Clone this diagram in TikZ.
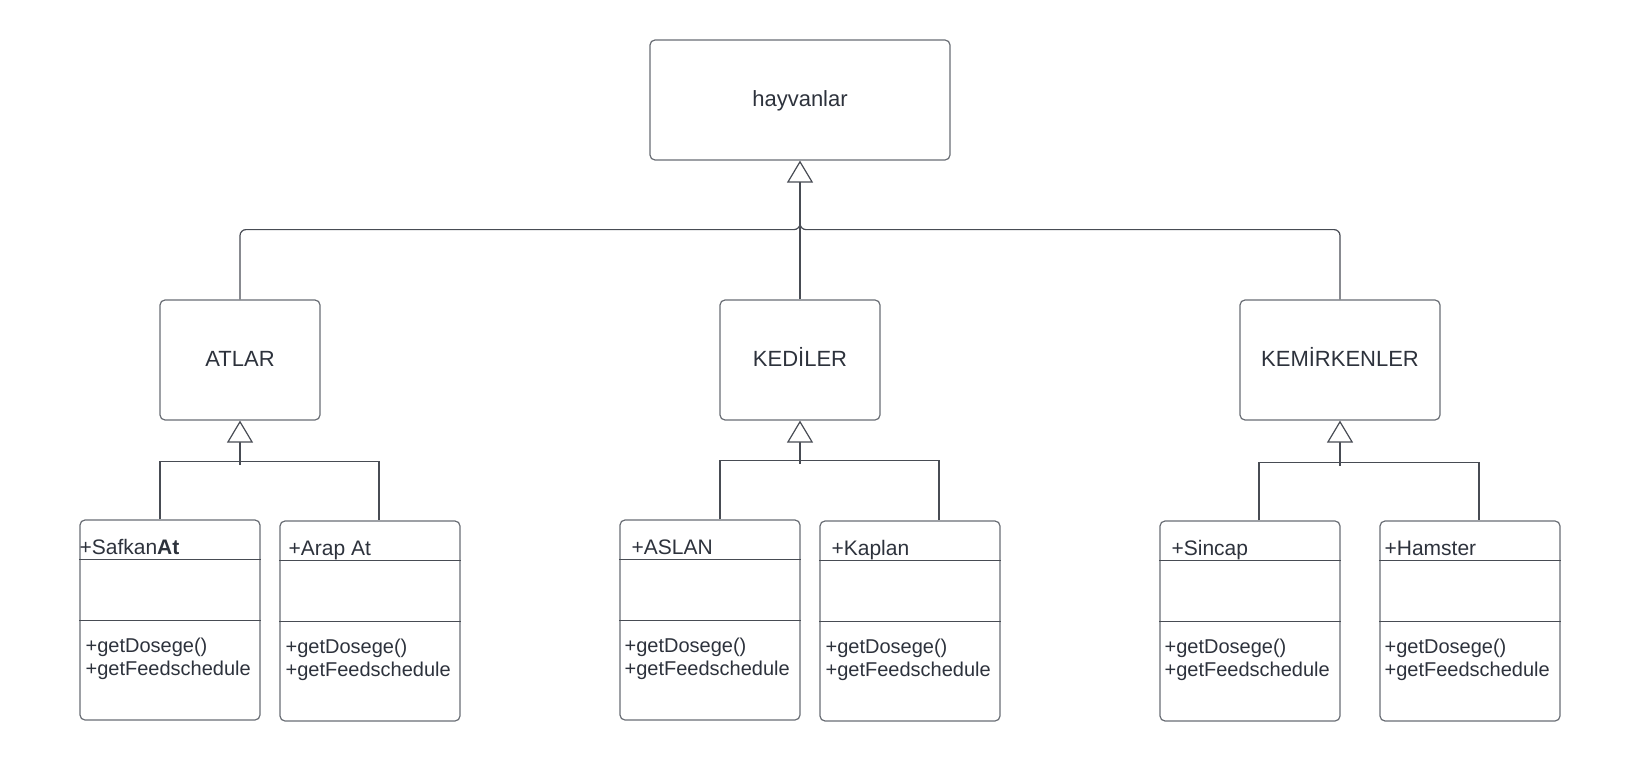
\documentclass[tikz,border=0pt]{standalone}
\usepackage{fontspec}
\setmainfont{Liberation Sans}
\usetikzlibrary{arrows.meta,positioning,calc}
\definecolor{inkgray}{RGB}{45,50,60}
\definecolor{edgegray}{RGB}{105,109,116}
\definecolor{wiregray}{RGB}{72,76,84}
\tikzset{groupbox/.style={
            draw=edgegray,
            line width=1.2pt,
            rounded corners=5pt,
            minimum height=120pt,
            text height=18pt,
            text depth=5pt,
            text=inkgray,
            font=\fontsize{22}{26}\selectfont
        },
        classbox/.style={
            draw=edgegray,
            line width=1.2pt,
            rounded corners=5pt,
            minimum width=180pt,
            minimum height=200pt
        },
        classline/.style={
            draw=wiregray,
            line width=1.2pt
        },
        classtext/.style={
            inner sep=0pt,
            anchor=base west,
            text=inkgray,
            font=\fontsize{20}{22}\selectfont
        },
        titletext/.style={
            classtext,
            font=\fontsize{21}{24}\selectfont
        },
        wire/.style={
            draw=wiregray,
            line width=1.2pt
        },
        inherit/.style={
            wire,
            -{Triangle[open,fill=white,width=26pt,length=22pt]}
        }
    }
% class box: name, centre, title, title shift, method shift
\newcommand{\umlclass}[5]{%
    \node[classbox] (#1) at (#2) {};
    \node[titletext] (#1-title) at ([xshift=#4pt,yshift=-35pt]#1.north west) {#3};
    \draw[classline] ([yshift=-40pt]#1.north west) -- ([yshift=-40pt]#1.north east);
    \draw[classline] ([yshift=-101pt]#1.north west) -- ([yshift=-101pt]#1.north east);
    \node[classtext] (#1-dose) at ([xshift=#5pt,yshift=-133pt]#1.north west) {+getDosege()};
    \node[classtext] (#1-feed) at ([xshift=#5pt,yshift=-156.5pt]#1.north west) {+getFeedschedule};
}

\begin{document}
\begin{tikzpicture}[x=1pt,y=-1pt]
        \useasboundingbox (0,0) rectangle (1640,762);
        % top level
        \node[groupbox,minimum width=300pt] at (800,100) (hayvanlar) {hayvanlar};
        \node[groupbox,minimum width=160pt] at (240,360) (atlar) {ATLAR};
        \node[groupbox,minimum width=160pt] at (800,360) (kediler) {KEDİLER};
        \node[groupbox,minimum width=200pt] at (1340,360) (kemirkenler) {KEMİRKENLER};
        \coordinate (hjoint) at ([yshift=-69pt]hayvanlar.south);
        \coordinate (hbase) at ([yshift=-22pt]hayvanlar.south);
        \draw[inherit] (kediler.north) -- (hayvanlar.south);
        \draw[wire,rounded corners=6pt] (atlar.north) |- (hjoint) -- (hbase);
        \draw[wire,rounded corners=6pt] (kemirkenler.north) |- (hjoint) -- (hbase);
        % classes
        \umlclass{safkan}{170,620}{+Safkan\textbf{At}}{0}{6}
        \umlclass{arap}{370,621}{+Arap At}{9}{6}
        \umlclass{aslan}{710,620}{+ASLAN}{12}{5}
        \umlclass{kaplan}{910,621}{+Kaplan}{12}{6}
        \umlclass{sincap}{1250,621}{+Sincap}{12}{5}
        \umlclass{hamster}{1470,621}{+Hamster}{5}{5}
        % ATLAR
        \coordinate (ajoint) at ([yshift=-41pt]atlar.south);
        \draw[wire] ([xshift=-10pt]safkan.north) |- (ajoint) -| ([xshift=9pt]arap.north);
        \draw[inherit] ([yshift=-3pt]ajoint) -- (atlar.south);
        % KEDILER
        \coordinate (kjoint) at ([yshift=-40pt]kediler.south);
        \draw[wire] ([xshift=10pt]aslan.north) |- (kjoint) -| ([xshift=29pt]kaplan.north);
        \draw[inherit] ([yshift=-3pt]kjoint) -- (kediler.south);
        % KEMIRKENLER
        \coordinate (rjoint) at ([yshift=-42pt]kemirkenler.south);
        \draw[wire] ([xshift=9pt]sincap.north) |- (rjoint) -| ([xshift=9pt]hamster.north);
        \draw[inherit] ([yshift=-3pt]rjoint) -- (kemirkenler.south);
    \end{tikzpicture}
\end{document}
